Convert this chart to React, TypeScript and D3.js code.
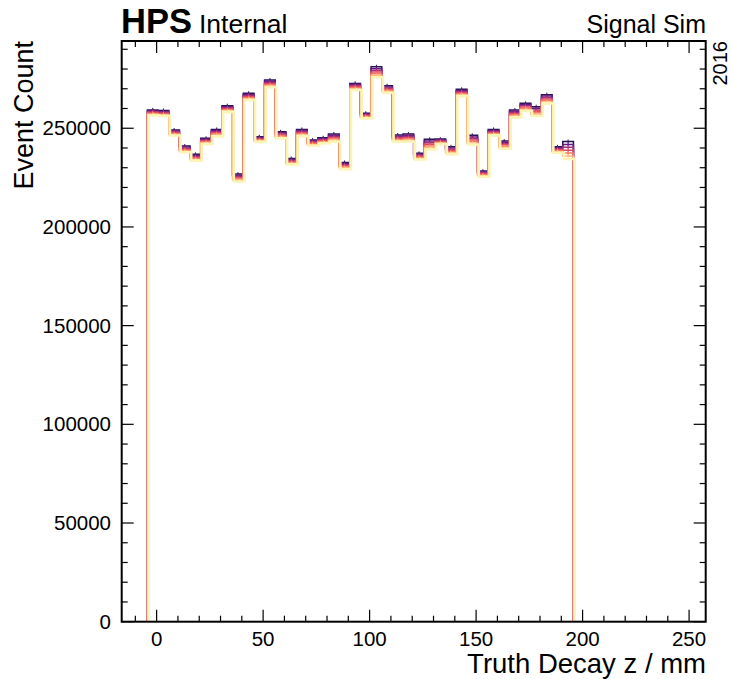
import React from "react";
import * as d3 from "d3";

// Histogram binning (truth decay z in mm)
const BIN_START = -4.3;
const BIN_WIDTH = 5;
const N_BINS = 40;

const xTickValues = [0, 50, 100, 150, 200, 250];
const yTickValues = [0, 50000, 100000, 150000, 200000, 250000];

// Overlaid signal samples (dark -> light)
const series0 = [259300, 259000, 249100, 241000, 236800, 244900, 249400, 261400, 226800, 267700, 245700, 274400, 248200, 234700, 249400, 244000, 245200, 247100, 232700, 272700, 257600, 281100, 271500, 246600, 247100, 237300, 244400, 244500, 240600, 269700, 246400, 228300, 249400, 243500, 259200, 262600, 260900, 267000, 240600, 243300];
const series1 = [258900, 258500, 248600, 240500, 236300, 244400, 248800, 260900, 226200, 267100, 245300, 273800, 247700, 234200, 248800, 243500, 244700, 246500, 232100, 272200, 257200, 280200, 270900, 246000, 246500, 236800, 243600, 244100, 240000, 269100, 245600, 227800, 248900, 242900, 258600, 262000, 260100, 266300, 240100, 241800];
const series2 = [258400, 258100, 248200, 239900, 235700, 243900, 248200, 260400, 225500, 266600, 244800, 273200, 247100, 233700, 248300, 243000, 244300, 245800, 231500, 271600, 256700, 279300, 270300, 245500, 245800, 236300, 242700, 243700, 239400, 268600, 244800, 227300, 248400, 242200, 258000, 261400, 259300, 265500, 239600, 240400];
const series3 = [258000, 257600, 247700, 239400, 235200, 243500, 247700, 259900, 224900, 266000, 244400, 272600, 246600, 233200, 247700, 242600, 243800, 245200, 231000, 271100, 256300, 278500, 269800, 244900, 245200, 235800, 241900, 243300, 238800, 268000, 244100, 226900, 247900, 241600, 257400, 260800, 258600, 264800, 239100, 238900];
const series4 = [257500, 257100, 247200, 238900, 234700, 243000, 247100, 259300, 224300, 265400, 244000, 272000, 246000, 232700, 247100, 242100, 243300, 244500, 230400, 270500, 255900, 277600, 269200, 244300, 244500, 235200, 241000, 242800, 238100, 267400, 243300, 226400, 247400, 240900, 256700, 260100, 257800, 264100, 238600, 237400];
const series5 = [257100, 256700, 246800, 238300, 234100, 242500, 246500, 258800, 223600, 264900, 243500, 271400, 245500, 232200, 246600, 241600, 242900, 243900, 229800, 270000, 255400, 276700, 268600, 243800, 243900, 234700, 240200, 242400, 237500, 266900, 242500, 225900, 246900, 240300, 256100, 259500, 257000, 263300, 238100, 236000];
const series6 = [256600, 256200, 246300, 237800, 233600, 242000, 245900, 258300, 223000, 264300, 243100, 270800, 244900, 231700, 246000, 241100, 242400, 243200, 229200, 269400, 255000, 275800, 268000, 243200, 243200, 234200, 239300, 242000, 236900, 266300, 241700, 225400, 246400, 239600, 255500, 258900, 256200, 262600, 237600, 234500];

const allSeries = [series0, series1, series2, series3, series4, series5, series6];
const colorPositions = [0.15, 0.3, 0.45, 0.6, 0.72, 0.85, 0.98];

const W = 732;
const H = 679;
const L = 121.7, R = 705.7, T = 41, B = 621.7;
const FONT = "'Liberation Sans', Arial, Helvetica, sans-serif";

export default function App() {
  const x = d3.scaleLinear().domain([-16.4, 257.8]).range([L, R]);
  const y = d3.scaleLinear().domain([0, 294200]).range([B, T]);
  const edges = d3.range(N_BINS + 1).map((i) => BIN_START + i * BIN_WIDTH);

  const stepLine = d3
    .line<[number, number]>()
    .x((d) => x(d[0]))
    .y((d) => y(d[1]))
    .curve(d3.curveStepAfter);

  const pathFor = (vals: number[]) => {
    const pts: [number, number][] = [[edges[0], 0]];
    vals.forEach((v, i) => pts.push([edges[i], v]));
    pts.push([edges[N_BINS], vals[N_BINS - 1]]);
    pts.push([edges[N_BINS], 0]);
    return stepLine(pts) as string;
  };

  const xMinor = d3.range(-10, 258, 10).filter((v) => v % 50 !== 0);
  const yMinor = d3.range(0, 294200, 10000).filter((v) => v % 50000 !== 0);

  const last = allSeries.length - 1;

  return (
    <svg
      width={W}
      height={H}
      style={{ position: "absolute", left: 0, top: 0, background: "#fff" }}
      fontFamily={FONT}
    >
      <rect x={0} y={0} width={W} height={H} fill="#fff" />
      <g>
        {allSeries.map((vals, k) => {
          const color = d3.interpolateMagma(colorPositions[k]);
          const isLast = k === last;
          return (
            <g key={k} transform={isLast ? "translate(1.2,0)" : undefined}>
              <path
                d={pathFor(vals)}
                fill="none"
                stroke={color}
                strokeWidth={isLast ? 2.6 : 1.5}
              />
              {vals.map((v, i) => {
                const c = (edges[i] + edges[i + 1]) / 2;
                const e = Math.sqrt(v) * 2;
                return (
                  <line
                    key={i}
                    x1={x(c)}
                    x2={x(c)}
                    y1={y(v - e)}
                    y2={y(v + e)}
                    stroke={color}
                    strokeWidth={1}
                  />
                );
              })}
            </g>
          );
        })}
      </g>

      {/* ticks */}
      <g stroke="#000" strokeWidth={1.2}>
        {xTickValues.map((v) => (
          <g key={"xM" + v}>
            <line x1={x(v)} x2={x(v)} y1={B} y2={B - 12} />
            <line x1={x(v)} x2={x(v)} y1={T} y2={T + 12} />
          </g>
        ))}
        {xMinor.map((v) => (
          <g key={"xm" + v}>
            <line x1={x(v)} x2={x(v)} y1={B} y2={B - 6} />
            <line x1={x(v)} x2={x(v)} y1={T} y2={T + 6} />
          </g>
        ))}
        {yTickValues.map((v) => (
          <g key={"yM" + v}>
            <line x1={L} x2={L + 12} y1={y(v)} y2={y(v)} />
            <line x1={R} x2={R - 12} y1={y(v)} y2={y(v)} />
          </g>
        ))}
        {yMinor.map((v) => (
          <g key={"ym" + v}>
            <line x1={L} x2={L + 6} y1={y(v)} y2={y(v)} />
            <line x1={R} x2={R - 6} y1={y(v)} y2={y(v)} />
          </g>
        ))}
      </g>
      <rect x={L} y={T} width={R - L} height={B - T} fill="none" stroke="#000" strokeWidth={2} />

      {/* tick labels */}
      <g fontSize={20.5} fill="#000">
        {xTickValues.map((v) => (
          <text key={"xl" + v} x={x(v)} y={646} textAnchor="middle">
            {v}
          </text>
        ))}
        {yTickValues.map((v) => (
          <text key={"yl" + v} x={111} y={y(v) + 7} textAnchor="end">
            {v}
          </text>
        ))}
      </g>

      {/* axis titles */}
      <text x={706} y={673} textAnchor="end" fontSize={27.5}>
        Truth Decay z / mm
      </text>
      <text transform="translate(33,41) rotate(-90)" textAnchor="end" fontSize={27}>
        Event Count
      </text>

      {/* header */}
      <text x={121} y={33} fontSize={35} fontWeight="bold" textLength={71} lengthAdjust="spacingAndGlyphs">
        HPS
      </text>
      <text x={199} y={33} fontSize={26.5}>
        Internal
      </text>
      <text x={706} y={33} textAnchor="end" fontSize={25}>
        Signal Sim
      </text>
      <text transform="translate(727,41) rotate(-90)" textAnchor="end" fontSize={20}>
        2016
      </text>
    </svg>
  );
}
